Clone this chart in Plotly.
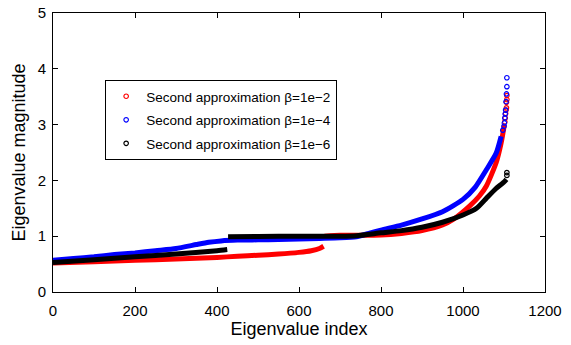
import plotly.graph_objects as go

# ---- data (index, eigenvalue magnitude) ----
# beta = 1e-2 (red): two branches plus sparse tail points
red_lo_idx = [0, 100, 200, 300, 400, 450, 500, 550, 600, 630, 650, 660]
red_lo_val = [0.52, 0.54, 0.57, 0.59, 0.62, 0.64, 0.66, 0.68, 0.71, 0.74, 0.78, 0.82]
red_hi_idx = [662, 700, 740, 800, 850, 900, 950, 976, 1016, 1040, 1057, 1081, 1093, 1101]
red_hi_val = [1.00, 1.015, 1.015, 1.02, 1.05, 1.10, 1.20, 1.30, 1.54, 1.72, 1.90, 2.32, 2.67, 3.00]
red_tail_idx = [1102, 1103, 1104, 1105, 1106, 1106, 1107, 1107]
red_tail_val = [3.05, 3.12, 3.20, 3.26, 3.30, 3.40, 3.45, 3.52]

# beta = 1e-4 (blue)
blue_idx = [0, 50, 100, 150, 200, 250, 300, 350, 380, 410, 450, 500, 550, 600, 650,
            700, 740, 770, 800, 850, 900, 950, 1000, 1030, 1057, 1081, 1093]
blue_val = [0.57, 0.60, 0.63, 0.67, 0.70, 0.74, 0.78, 0.85, 0.89, 0.915, 0.93, 0.935, 0.94,
            0.95, 0.96, 0.97, 0.99, 1.05, 1.11, 1.20, 1.31, 1.44, 1.66, 1.88, 2.19, 2.49, 2.79]
blue_tail_idx = [1097, 1100, 1101, 1102, 1103, 1104, 1105, 1106, 1107, 1107]
blue_tail_val = [2.90, 2.97, 3.03, 3.12, 3.19, 3.26, 3.41, 3.55, 3.68, 3.84]

# beta = 1e-6 (black)
black_lo_idx = [0, 100, 200, 300, 400, 425]
black_lo_val = [0.53, 0.58, 0.63, 0.68, 0.74, 0.76]
black_hi_idx = [427, 500, 600, 700, 740, 800, 850, 900, 950, 1000, 1033, 1057, 1080, 1100, 1106]
black_hi_val = [0.99, 0.995, 1.0, 1.0, 1.01, 1.06, 1.10, 1.16, 1.25, 1.38, 1.50, 1.68, 1.85, 1.97, 2.02]
black_tail_idx = [1107, 1107]
black_tail_val = [2.09, 2.14]

labels = ["Second approximation β=1e−2",
          "Second approximation β=1e−4",
          "Second approximation β=1e−6"]
colors = ["#ff0000", "#0000ff", "#000000"]

FONT = "Liberation Sans, Arial, Helvetica, sans-serif"
LW = 5

fig = go.Figure()

def band(xs, ys, color, grp):
    fig.add_trace(go.Scatter(x=xs, y=ys, mode="lines", legendgroup=grp,
                             line=dict(color=color, width=LW, shape="spline", smoothing=0.6),
                             showlegend=False, hoverinfo="skip"))

def tail(xs, ys, color, name, grp):
    fig.add_trace(go.Scatter(x=xs, y=ys, mode="markers", name=name, legendgroup=grp,
                             marker=dict(symbol="circle-open", size=4.5, color=color,
                                         line=dict(width=1.2, color=color))))

band(red_lo_idx, red_lo_val, colors[0], "r")
band(red_hi_idx, red_hi_val, colors[0], "r")
tail(red_tail_idx, red_tail_val, colors[0], labels[0], "r")
band(blue_idx, blue_val, colors[1], "b")
tail(blue_tail_idx, blue_tail_val, colors[1], labels[1], "b")
band(black_lo_idx, black_lo_val, colors[2], "k")
band(black_hi_idx, black_hi_val, colors[2], "k")
tail(black_tail_idx, black_tail_val, colors[2], labels[2], "k")

axis_common = dict(showline=True, linecolor="black", linewidth=1, mirror="ticks",
                   ticks="inside", ticklen=5, tickcolor="black", showgrid=False,
                   zeroline=False, automargin=False,
                   tickfont=dict(family=FONT, size=15, color="black"))

fig.update_layout(
    width=571, height=345,
    margin=dict(l=53, r=26, t=13, b=53),
    paper_bgcolor="white", plot_bgcolor="white",
    font=dict(family=FONT, color="black"),
    xaxis=dict(range=[0, 1200], dtick=200, tick0=0, ticklabelstandoff=5,
               title=dict(text="Eigenvalue index", font=dict(family=FONT, size=18), standoff=2),
               **axis_common),
    yaxis=dict(range=[0, 5], dtick=1, tick0=0, ticklabelstandoff=3,
               title=dict(text="Eigenvalue magnitude", font=dict(family=FONT, size=18), standoff=7),
               **axis_common),
    legend=dict(x=0.106, y=0.76, xanchor="left", yanchor="top",
                bgcolor="white", bordercolor="black", borderwidth=1,
                font=dict(family=FONT, size=13.5, color="black"),
                traceorder="grouped", tracegroupgap=3, itemwidth=30),
)

fig.write_html("out.html")
